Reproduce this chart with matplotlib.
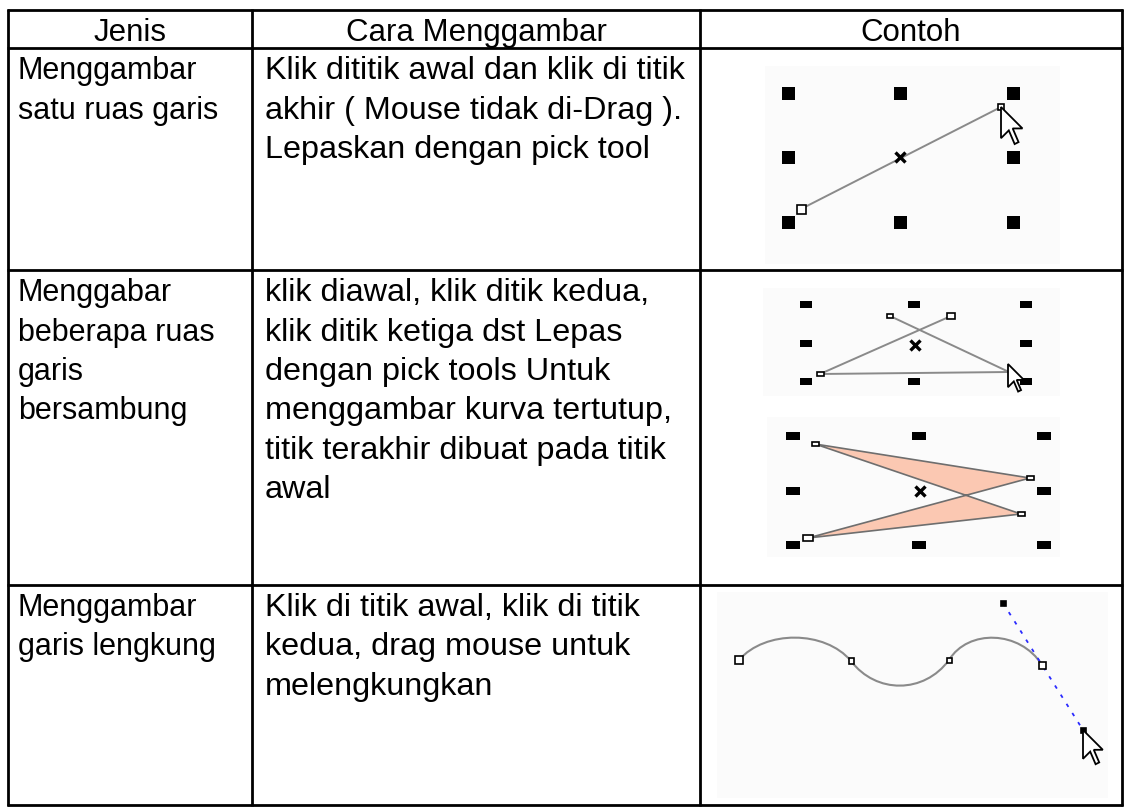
import matplotlib.pyplot as plt
import matplotlib.patches as mpatches
from matplotlib.path import Path
import numpy as np

plt.rcParams['font.family'] = ['Liberation Sans', 'DejaVu Sans']

# Table text
headers = ["Jenis", "Cara Menggambar", "Contoh"]
jenis = [
    ["Menggambar", "satu ruas garis"],
    ["Menggabar", "beberapa ruas", "garis", "bersambung"],
    ["Menggambar", "garis lengkung"],
]
cara = [
    ["Klik dititik awal dan klik di titik", "akhir ( Mouse tidak di-Drag ).",
     "Lepaskan dengan pick tool"],
    ["klik diawal, klik ditik kedua,", "klik ditik ketiga dst Lepas",
     "dengan pick tools Untuk", "menggambar kurva tertutup,",
     "titik terakhir dibuat pada titik", "awal"],
    ["Klik di titik awal, klik di titik", "kedua, drag mouse untuk",
     "melengkungkan"],
]

# Table grid (pixel coords)
col_x = [8, 252, 700, 1122]
row_y = [10, 48, 270, 585, 805]
W, H = 1130, 808

# Illustration points
ex1_handles_x = [788, 900, 1013]
ex1_handles_y = [93, 157, 222]
ex1_line = [(801, 209), (1001, 107)]
ex1_center = (900, 157)

ex2a_handles_x = [806, 914, 1026]
ex2a_handles_y = [304, 343, 381]
ex2a_path = [(890, 316), (1009, 372), (820, 374), (951, 316)]
ex2a_center = (915, 345)

ex2b_handles_x = [793, 919, 1044]
ex2b_handles_y = [436, 491, 545]
ex2b_poly = [(815, 444), (1030, 478), (808, 538), (1021, 514)]
ex2b_center = (920, 491)

ex3_nodes = [(739, 660), (851, 661), (949, 660), (1042, 665)]
ex3_ctrl = [[(765, 630), (825, 630)],
            [(876, 694), (924, 694)],
            [(968, 629), (1020, 630)]]
ex3_handle_a = (1003, 603)
ex3_handle_b = (1083, 730)

# cursor outline (unit shape, tip at origin)
cursor_shape = np.array([(0, 0), (0, 16), (4, 12), (7, 19), (9, 18),
                         (6, 11), (11, 11)], dtype=float)

fig = plt.figure(figsize=(11.3, 8.08), dpi=100)
ax = fig.add_axes([0, 0, 1, 1])
ax.set_xlim(0, W)
ax.set_ylim(H, 0)
ax.axis('off')

# grid lines
for x in col_x:
    ax.plot([x, x], [row_y[0] - 1, row_y[-1] + 1], color='black', lw=2.0, solid_capstyle='butt')
for y in row_y:
    ax.plot([col_x[0] - 1, col_x[-1] + 1], [y, y], color='black', lw=2.0, solid_capstyle='butt')

spacing = 39.5
for k, h in enumerate(headers):
    ax.text((col_x[k] + col_x[k + 1]) / 2, 41, h, fontsize=22.5, ha='center', va='baseline')

for r in range(3):
    top = row_y[r + 1]
    for i, s in enumerate(jenis[r]):
        ax.text(col_x[0] + 10, top + 31 + i * spacing, s, fontsize=22, va='baseline')
    for i, s in enumerate(cara[r]):
        ax.text(col_x[1] + 13, top + 31 + i * spacing, s, fontsize=23.3, va='baseline')


def bg(x0, y0, x1, y1):
    ax.add_patch(mpatches.Rectangle((x0, y0), x1 - x0, y1 - y0, fc='#fbfbfb', ec='none', zorder=1))


def handles(xs, ys, w, h):
    for x in xs:
        for y in ys:
            if x == xs[1] and y == ys[1]:
                continue
            ax.add_patch(mpatches.Rectangle((x - w / 2, y - h / 2), w, h, fc='black', ec='none', zorder=4))


def node(p, w, h, fc='white'):
    ax.add_patch(mpatches.Rectangle((p[0] - w / 2, p[1] - h / 2), w, h, fc=fc, ec='black', lw=1.2, zorder=5))


def cross(p):
    ax.plot(*p, marker='x', color='black', ms=7, mew=2.4, zorder=5)


def cursor(tip, scale):
    pts = cursor_shape * scale + np.array(tip)
    ax.add_patch(mpatches.Polygon(pts, closed=True, fc='white', ec='black', lw=1.3, zorder=6))


# example 1
bg(765, 66, 1060, 264)
handles(ex1_handles_x, ex1_handles_y, 13, 13)
ax.plot(*zip(*ex1_line), color='#8a8a8a', lw=1.4, zorder=3)
node(ex1_line[0], 9, 9)
node(ex1_line[1], 6, 6)
cross(ex1_center)
cursor(ex1_line[1], 1.95)

# example 2 upper
bg(763, 288, 1060, 396)
handles(ex2a_handles_x, ex2a_handles_y, 12, 7)
ax.plot(*zip(*ex2a_path), color='#8a8a8a', lw=1.4, zorder=3)
node(ex2a_path[0], 6, 4)
node(ex2a_path[3], 8, 6)
node(ex2a_path[2], 7, 4)
cross(ex2a_center)
cursor((1008, 364), 1.45)

# example 2 lower
bg(767, 417, 1060, 557)
handles(ex2b_handles_x, ex2b_handles_y, 14, 8)
ax.add_patch(mpatches.Polygon(ex2b_poly, closed=True, fc='#fbc8b2', ec='#6e6e6e', lw=1.2, zorder=3))
for p in ex2b_poly:
    node(p, 7, 4)
node(ex2b_poly[2], 10, 6)
cross(ex2b_center)

# example 3
bg(717, 592, 1108, 798)
verts = [ex3_nodes[0]]
codes = [Path.MOVETO]
for k in range(3):
    verts += [ex3_ctrl[k][0], ex3_ctrl[k][1], ex3_nodes[k + 1]]
    codes += [Path.CURVE4] * 3
ax.add_patch(mpatches.PathPatch(Path(verts, codes), fc='none', ec='#8a8a8a', lw=1.5, zorder=3))
ax.plot([ex3_handle_a[0], ex3_handle_b[0]], [ex3_handle_a[1], ex3_handle_b[1]],
        color='#2a2aff', lw=1.3, ls=(0, (2, 4)), zorder=4)
node(ex3_nodes[0], 8, 8)
node(ex3_nodes[1], 5, 6)
node(ex3_nodes[2], 5, 5)
node(ex3_nodes[3], 7, 7)
node(ex3_handle_a, 5, 5, fc='black')
node(ex3_handle_b, 5, 5, fc='black')
cursor(ex3_handle_b, 1.8)

fig.savefig('out.png', dpi=100)
